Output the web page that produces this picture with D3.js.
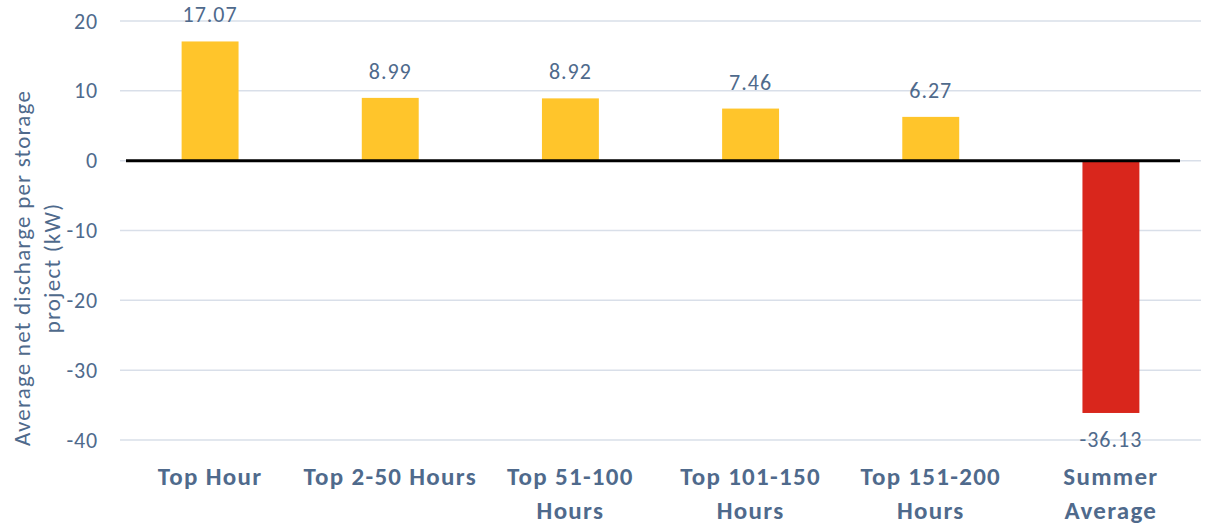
<!DOCTYPE html>
<html><head><meta charset="utf-8">
<script src="https://cdn.jsdelivr.net/npm/d3@7"></script>
<style>body{margin:0;background:#fff}</style>
</head><body>
<svg id="c" width="1213" height="529"></svg>
<script>
const categories = [["Top Hour"],["Top 2-50 Hours"],["Top 51-100","Hours"],["Top 101-150","Hours"],["Top 151-200","Hours"],["Summer","Average"]];
const values = [17.07, 8.99, 8.92, 7.46, 6.27, -36.13];
const labels = ["17.07","8.99","8.92","7.46","6.27","-36.13"];
const yTicks = [20,10,0,-10,-20,-30,-40];
const yTitle = ["Average net discharge per storage","project (kW)"];

const svg = d3.select("#c");
const font = "Carlito, Lato, sans-serif";
const txt = "#4f6a8c";
const x = d3.scaleBand().domain(d3.range(values.length)).range([120,1201]).paddingInner(0.684).paddingOuter(0.342);
const y = d3.scaleLinear().domain([-40,20]).range([440,21]);

svg.append("g").selectAll("line").data(yTicks).join("line")
  .attr("x1",120).attr("x2",1201).attr("y1",d=>y(d)).attr("y2",d=>y(d))
  .attr("stroke","#d9dfe9").attr("stroke-width",1.5);

svg.append("g").selectAll("text").data(yTicks).join("text")
  .attr("x",98).attr("y",d=>y(d)+7.5).attr("text-anchor","end")
  .attr("font-family",font).attr("font-size",22).attr("letter-spacing",0.8).attr("fill",txt).text(d=>d);

svg.append("g").selectAll("rect").data(values).join("rect")
  .attr("x",(d,i)=>x(i)).attr("width",x.bandwidth())
  .attr("y",d=>y(Math.max(0,d))).attr("height",d=>Math.abs(y(d)-y(0)))
  .attr("fill",d=>d<0?"#d9261c":"#ffc52b");

svg.append("line").attr("x1",126).attr("x2",1180).attr("y1",y(0)).attr("y2",y(0))
  .attr("stroke","#000").attr("stroke-width",3);

svg.append("g").selectAll("text").data(values).join("text")
  .attr("x",(d,i)=>x(i)+x.bandwidth()/2)
  .attr("y",d=>d>=0?y(d)-19:y(d)+34)
  .attr("text-anchor","middle").attr("font-family",font).attr("font-size",22).attr("letter-spacing",1)
  .attr("fill",txt).text((d,i)=>labels[i]);

const cg = svg.append("g").selectAll("text").data(categories).join("text")
  .attr("x",(d,i)=>x(i)+x.bandwidth()/2).attr("y",485)
  .attr("text-anchor","middle").attr("font-family",font).attr("font-size",25).attr("letter-spacing",1.3)
  .attr("font-weight","bold").attr("fill",txt);
cg.selectAll("tspan").data(d=>d).join("tspan")
  .attr("x",function(){return this.parentNode.getAttribute("x");})
  .attr("dy",(d,i)=>i===0?0:34).text(d=>d);

const t = svg.append("text").attr("transform","translate(30,268) rotate(-90)")
  .attr("text-anchor","middle").attr("font-family",font).attr("font-size",23).attr("letter-spacing",1.2).attr("fill",txt);
t.selectAll("tspan").data(yTitle).join("tspan").attr("x",0).attr("dy",(d,i)=>i===0?0:30).text(d=>d);
</script>
</body></html>
